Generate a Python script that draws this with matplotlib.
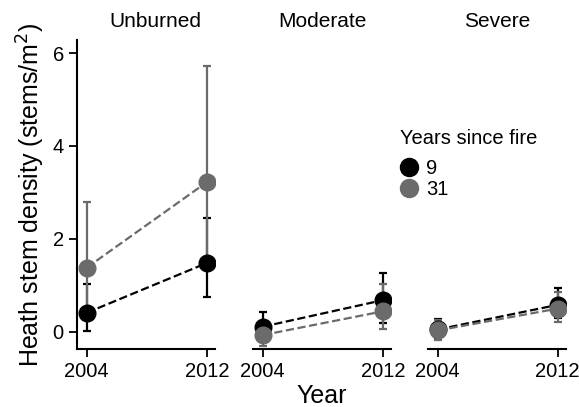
import matplotlib
matplotlib.use("Agg")
import matplotlib.pyplot as plt
from matplotlib.lines import Line2D

plt.rcParams['font.family'] = ['Liberation Sans', 'DejaVu Sans']

panels = ["Unburned", "Moderate", "Severe"]
years = [2004, 2012]
groups = ["9", "31"]
colors = {"9": "#000000", "31": "#6b6b6b"}

# mean values per panel per group
mean_9 = {"Unburned": [0.41, 1.48], "Moderate": [0.11, 0.68], "Severe": [0.05, 0.58]}
lo_9 = {"Unburned": [0.02, 0.75], "Moderate": [-0.20, 0.20], "Severe": [-0.15, 0.30]}
hi_9 = {"Unburned": [1.03, 2.46], "Moderate": [0.43, 1.26], "Severe": [0.27, 0.95]}
mean_31 = {"Unburned": [1.38, 3.22], "Moderate": [-0.07, 0.44], "Severe": [0.03, 0.50]}
lo_31 = {"Unburned": [0.48, 1.61], "Moderate": [-0.30, 0.05], "Severe": [-0.18, 0.22]}
hi_31 = {"Unburned": [2.80, 5.73], "Moderate": [0.17, 1.02], "Severe": [0.25, 0.85]}

W, H = 579, 407
fig = plt.figure(figsize=(W / 100, H / 100), dpi=100)
lefts = [77, 253, 428]
pw = 138
top, bot = 40, 349
title_x = [0.569, 0.5, 0.5]

for i, p in enumerate(panels):
    ax = fig.add_axes([lefts[i] / W, (H - bot) / H, pw / W, (bot - top) / H])
    for g, m, lo, hi in [("9", mean_9, lo_9, hi_9), ("31", mean_31, lo_31, hi_31)]:
        c = colors[g]
        mv = m[p]
        yerr = [[mv[k] - lo[p][k] for k in range(2)], [hi[p][k] - mv[k] for k in range(2)]]
        ax.errorbar(years, mv, yerr=yerr, fmt='none', ecolor=c, elinewidth=1.6,
                    capsize=2.7, capthick=1.6, zorder=2)
        ax.plot(years, mv, ls='--', color=c, lw=1.6, zorder=3)
        ax.plot(years, mv, 'o', color=c, ms=12, zorder=4)
    ax.set_xlim(2003.35, 2012.55)
    ax.set_ylim(-0.37, 6.28)
    ax.set_xticks(years)
    ax.set_xticklabels([str(y) for y in years])
    ax.spines['top'].set_visible(False)
    ax.spines['right'].set_visible(False)
    ax.spines['bottom'].set_linewidth(1.5)
    ax.spines['left'].set_linewidth(1.5)
    ax.tick_params(axis='both', direction='out', length=6, width=1.3, labelsize=14.5, pad=3.5)
    ax.set_title(p, fontsize=15, pad=9, x=title_x[i])
    ax.patch.set_visible(False)
    if i == 0:
        ax.set_yticks([0, 2, 4, 6])
    else:
        ax.spines['left'].set_visible(False)
        ax.set_yticks([])

fig.text(31 / W, 1 - 195 / H, "Heath stem density (stems/m$^2$)", fontsize=18,
         rotation=90, ha='center', va='center')
fig.text(322 / W, 1 - 396 / H, "Year", fontsize=18, ha='center', va='center')

fig.text(400 / W, 1 - 138 / H, "Years since fire", fontsize=14.5, ha='left', va='center')
handles = [Line2D([], [], ls='none', marker='o', color=colors[g], ms=13) for g in groups]
leg = fig.legend(handles, groups, loc='upper left',
                 bbox_to_anchor=(400 / W, 1 - 159 / H), frameon=False, fontsize=14.5,
                 handlelength=0.9, handletextpad=0.4, labelspacing=0.08,
                 borderpad=0, borderaxespad=0)

fig.savefig("out.png", dpi=100)
